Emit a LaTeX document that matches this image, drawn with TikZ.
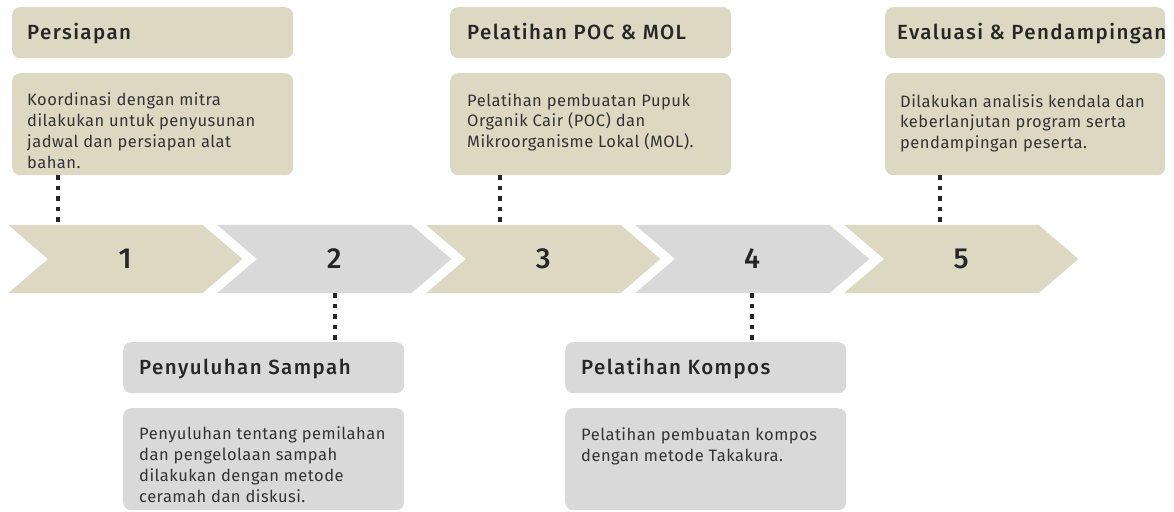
\documentclass[tikz,border=0pt]{standalone}
\usepackage{fontspec}
\setmainfont{Fira Sans}
\newfontfamily\titlefont{Fira Sans Medium}[LetterSpace=7]
\newfontfamily\bodyfont{Fira Sans}[LetterSpace=3]
\newfontfamily\numfont{Fira Sans Medium}
\usetikzlibrary{backgrounds}
\definecolor{beige}{HTML}{DDD8C2}
\definecolor{grayc}{HTML}{D9D9D9}
\definecolor{ink}{HTML}{262626}
\definecolor{bodyc}{HTML}{333333}
\begin{document}
\begin{tikzpicture}[x=1pt,y=-1pt,
  box/.style={rounded corners=8pt, inner sep=0pt, anchor=north west, minimum width=281pt},
  titlebox/.style={box, minimum height=51pt},
  descbox/.style={box, minimum height=102pt},
  ttl/.style={anchor=base west, inner sep=0pt, font=\titlefont\fontsize{20.5}{24}\selectfont, text=ink},
  dsc/.style={anchor=base west, inner sep=0pt, align=left, font=\bodyfont\fontsize{16.5}{20.7}\selectfont, text=bodyc},
  chev/.style={minimum width=234pt, minimum height=68pt, inner sep=0pt, anchor=west, font=\numfont\fontsize{29}{30}\selectfont, text=ink},
  conn/.style={draw=ink, line width=4.5pt, dash pattern=on 4.5pt off 6pt},
]
\useasboundingbox (0,0) rectangle (1174,511);

% chevrons
\foreach \i/\x/\c in {1/8/beige,2/217/grayc,3/426/beige,4/635/grayc,5/844/beige}{
  \node[chev] (ch\i) at (\x,259) {\i};
  \begin{pgfonlayer}{background}
    \fill[\c] (ch\i.north west) -- ([xshift=-40pt]ch\i.north east) -- (ch\i.east)
      -- ([xshift=-40pt]ch\i.south east) -- (ch\i.south west) -- ([xshift=40pt]ch\i.west) -- cycle;
  \end{pgfonlayer}
}

% top boxes
\node[titlebox, fill=beige] (t1) at (12,7) {};
\node[descbox, fill=beige] (d1) at (12,73) {};
\node[titlebox, fill=beige] (t3) at (450,7) {};
\node[descbox, fill=beige] (d3) at (450,73) {};
\node[titlebox, fill=beige, minimum width=280pt] (t5) at (885,7) {};
\node[descbox, fill=beige, minimum width=280pt] (d5) at (885,73) {};

% bottom boxes
\node[titlebox, fill=grayc] (t2) at (123,342) {};
\node[descbox, fill=grayc] (d2) at (123,408) {};
\node[titlebox, fill=grayc] (t4) at (565,342) {};
\node[descbox, fill=grayc] (d4) at (565,408) {};

% titles
\node[ttl] (tt1) at (27,39.5) {Persiapan};
\node[ttl] (tt3) at (467,39.5) {Pelatihan POC \& MOL};
\node[ttl] (tt5) at (897,39.5) {Evaluasi \& Pendampingan};
\node[ttl] (tt2) at (139,374) {Penyuluhan Sampah};
\node[ttl] (tt4) at (581,374) {Pelatihan Kompos};

% descriptions (base anchor = last line's baseline)
\node[dsc] (tx1) at (27,168) {Koordinasi dengan mitra\\dilakukan untuk penyusunan\\jadwal dan persiapan alat\\bahan.};
\node[dsc] (tx3) at (467,147.5) {Pelatihan pembuatan Pupuk\\Organik Cair (POC) dan\\Mikroorganisme Lokal (MOL).};
\node[dsc] (tx5) at (900,148.5) {Dilakukan analisis kendala dan\\keberlanjutan program serta\\pendampingan peserta.};
\node[dsc] (tx2) at (139,502) {Penyuluhan tentang pemilahan\\dan pengelolaan sampah\\dilakukan dengan metode\\ceramah dan diskusi.};
\node[dsc] (tx4) at (581,461.5) {Pelatihan pembuatan kompos\\dengan metode Takakura.};

% connectors
\coordinate (k1) at (58,0);
\coordinate (k2) at (335,0);
\coordinate (k3) at (500,0);
\coordinate (k4) at (752,0);
\coordinate (k5) at (940,0);
\draw[conn] (k1 |- d1.south) -- (k1 |- ch1.north);
\draw[conn] (k3 |- d3.south) -- (k3 |- ch3.north);
\draw[conn] (k5 |- d5.south) -- (k5 |- ch5.north);
\draw[conn] (k2 |- ch2.south) -- (k2 |- t2.north);
\draw[conn] (k4 |- ch4.south) -- (k4 |- t4.north);
\end{tikzpicture}
\end{document}
